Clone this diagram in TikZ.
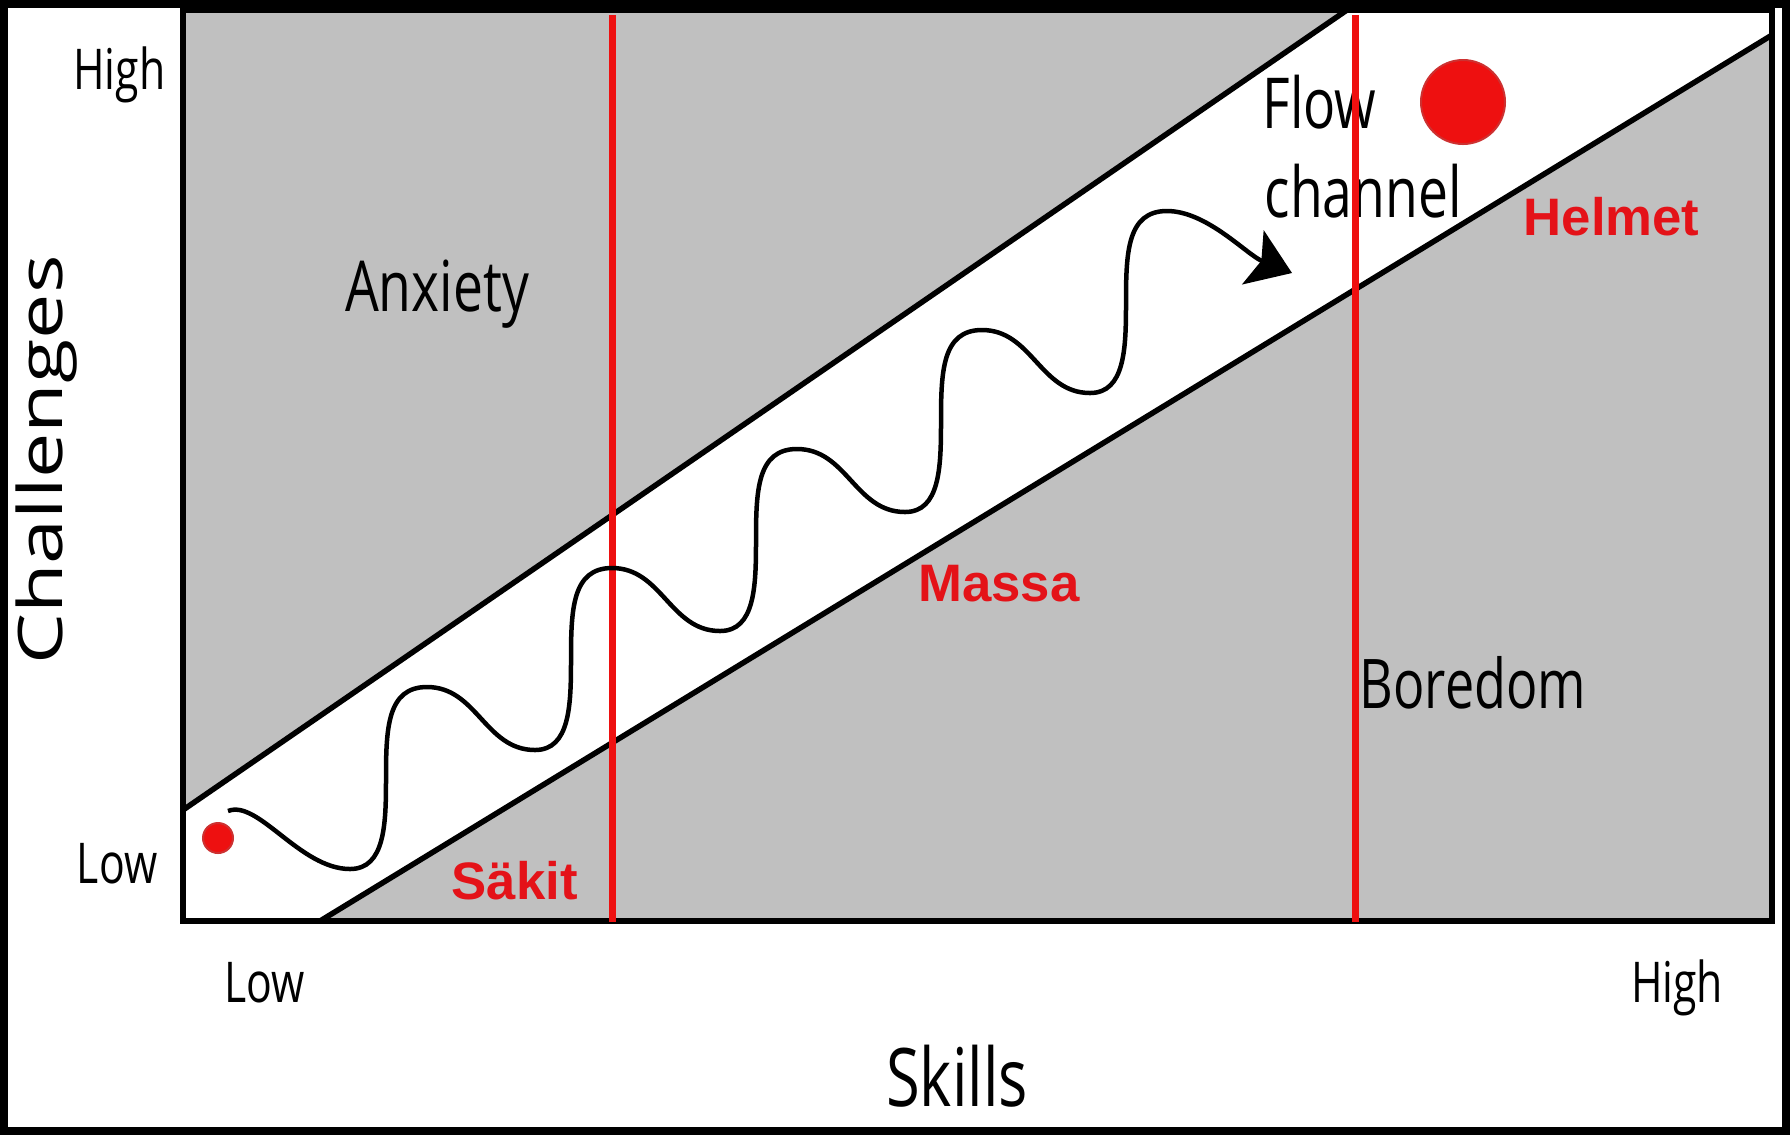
\documentclass[tikz,border=0pt]{standalone}
\usepackage{fontspec}
\setmainfont{Open Sans}
\newfontfamily\arialfont{Liberation Sans}
\usepackage{graphicx}
\usetikzlibrary{arrows.meta, positioning}
\definecolor{zonegray}{RGB}{192,192,192}
\definecolor{markred}{RGB}{238,16,16}
\definecolor{textred}{RGB}{228,18,24}
\newcommand{\squash}[1]{\scalebox{0.76}[1]{#1}}

\begin{document}
\begin{tikzpicture}[x=0.1mm, y=-0.1mm]
\tikzstyle{zone}=[fill=zonegray]
\tikzstyle{edge}=[line width=0.55mm]
\tikzstyle{level}=[draw=markred, line width=0.7mm]
\tikzstyle{dot}=[circle, fill=markred, draw=markred!70!gray, line width=0.2mm, inner sep=0pt]
\tikzstyle{axislabel}=[inner sep=0pt, font=\fontsize{16}{19}\selectfont]
\tikzstyle{title}=[inner sep=0pt, font=\fontsize{23}{28}\selectfont]
\tikzstyle{region}=[inner sep=0pt, font=\fontsize{20}{25}\selectfont]
\tikzstyle{gear}=[inner sep=0pt, text=textred, font=\arialfont\bfseries\fontsize{15}{18}\selectfont]
\tikzstyle{wave}=[line width=0.45mm, -{Stealth[length=4.2mm, width=5.8mm, inset=0.9mm]}]

\useasboundingbox (0,0) rectangle (1791,1135);

% plot corners and channel edges
\coordinate (tl) at (183,10);
\coordinate (br) at (1772,921);
\coordinate (upA) at (183,810);
\coordinate (upB) at (1347,10);
\coordinate (loA) at (320,921);
\coordinate (loB) at (1772,35);

\fill[white] (tl) rectangle (br);
\fill[zone] (tl) -- (upB) -- (upA) -- cycle;
\fill[zone] (loA) -- (loB) -- (br) -- cycle;
\draw[edge] (upA) -- (upB);
\draw[edge] (loA) -- (loB);
\draw[edge] (tl) rectangle (br);

% axis texts
\node[axislabel, anchor=base east] (chigh) at (166,89) {\squash{High}};
\node[axislabel, anchor=base east] (clow) at (158,883) {\squash{Low}};
\node[axislabel, anchor=base] (slow) at (265,1002) {\squash{Low}};
\node[axislabel, anchor=base] (shigh) at (1677,1002) {\squash{High}};
\node[title, anchor=base] (skills) at (957,1106) {\squash{Skills}};
\node[title, rotate=90, anchor=base] (challenges) at (62,460) {\scalebox{1}[0.76]{Challenges}};

% regions
\node[region, anchor=base] (anxiety) at (437,311) {\squash{Anxiety}};
\node[region, anchor=base west] (flow) at (1262,128) {\squash{Flow}};
\node[region, anchor=base west] (channel) at (1264,217) {\squash{channel}};
\node[region, anchor=base west, font=\fontsize{19.5}{24}\selectfont] (boredom) at (1359,708) {\squash{Boredom}};

% levels
\coordinate (sakitTop) at (612,15);
\coordinate (sakitBot) at (612,922);
\coordinate (helmetTop) at (1355,15);
\coordinate (helmetBot) at (1355,922);
\draw[level] (sakitTop) -- (sakitBot);
\draw[level] (helmetTop) -- (helmetBot);
\node[gear, anchor=base west] (sakit) at (451,899) {Säkit};
\node[gear, anchor=base] (massa) at (999,601) {Massa};
\node[gear, anchor=base west] (helmet) at (1523,235) {Helmet};

\node[dot, minimum size=3mm] (start) at (218,838) {};
\node[dot, minimum size=8.4mm] (goal) at (1463,102) {};

% path through the channel
\coordinate (wavestart) at (228,811);
\coordinate (waveend) at (1292,273);
\draw[wave] (wavestart) .. controls +(30,-12) and +(-50,0) .. (350,869)
  .. controls +(35,0) and +(0,45) .. (386,779)
  .. controls +(0,-50) and +(-40,0) .. (427,687)
  .. controls +(50,0) and +(-50,0) .. (535,750)
  .. controls +(35,0) and +(0,45) .. (571,660)
  .. controls +(0,-50) and +(-40,0) .. (612,568)
  .. controls +(50,0) and +(-50,0) .. (720,631)
  .. controls +(35,0) and +(0,45) .. (756,541)
  .. controls +(0,-50) and +(-40,0) .. (797,449)
  .. controls +(50,0) and +(-50,0) .. (905,512)
  .. controls +(35,0) and +(0,45) .. (941,422)
  .. controls +(0,-50) and +(-40,0) .. (982,330)
  .. controls +(50,0) and +(-50,0) .. (1090,393)
  .. controls +(35,0) and +(0,45) .. (1126,303)
  .. controls +(0,-50) and +(-40,0) .. (1167,211)
  .. controls +(40,0) and +(-45,-18) .. (waveend);

% frame
\draw[line width=0.8mm] (4,4) rectangle (1786,1131);
\end{tikzpicture}
\end{document}
